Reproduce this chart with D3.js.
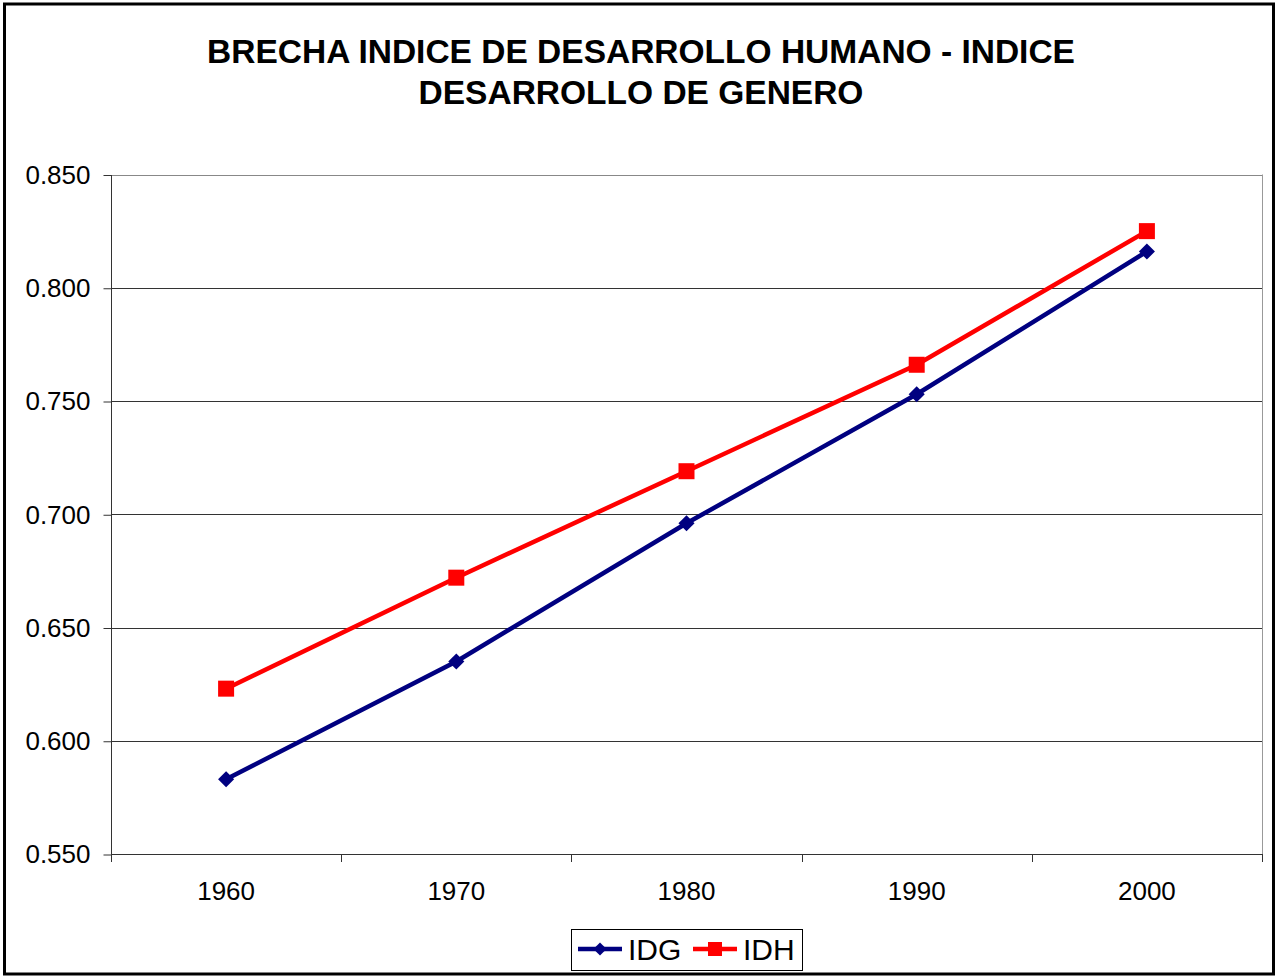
<!DOCTYPE html>
<html>
<head>
<meta charset="utf-8">
<script src="https://cdn.jsdelivr.net/npm/d3@7"></script>
<style>
  html, body { margin: 0; padding: 0; background: #fff; }
  svg { display: block; font-family: "Liberation Sans", Arial, sans-serif; }
</style>
</head>
<body>
<div id="chart"></div>
<script>
const años = ["1960", "1970", "1980", "1990", "2000"];
const idg = [0.583, 0.635, 0.696, 0.753, 0.816];
const idh = [0.623, 0.672, 0.719, 0.766, 0.825];
const ticksY = [0.55, 0.6, 0.65, 0.7, 0.75, 0.8, 0.85];
const titulo = ["BRECHA INDICE DE DESARROLLO HUMANO - INDICE", "DESARROLLO DE GENERO"];

const width = 1277, height = 977;
const margin = { top: 174.5, right: 15, bottom: 123, left: 111 };

const svg = d3.select("#chart").append("svg").attr("width", width).attr("height", height);

// marco exterior
svg.append("rect").attr("x", 4.5).attr("y", 4).attr("width", 1269).attr("height", 970)
  .attr("fill", "#fff").attr("stroke", "#000").attr("stroke-width", 3);

// titulo
svg.append("g").selectAll("text").data(titulo).join("text")
  .attr("x", 641).attr("y", (d, i) => 63 + i * 40.5)
  .attr("text-anchor", "middle").attr("font-size", 33.5).attr("font-weight", "bold").attr("fill", "#000")
  .text((d) => d);

const xScale = d3.scaleBand().domain(años).range([margin.left, width - margin.right]);
const yScale = d3.scaleLinear().domain([0.55, 0.85]).range([height - margin.bottom, margin.top]);

// cuadricula
svg.append("g").selectAll("line").data(ticksY.slice(1)).join("line")
  .attr("x1", margin.left).attr("x2", width - margin.right)
  .attr("y1", (d) => Math.round(yScale(d)) + 0.5).attr("y2", (d) => Math.round(yScale(d)) + 0.5)
  .attr("stroke", (d) => d === 0.85 ? "#888" : "#333").attr("stroke-width", 1);

// borde derecho
svg.append("line").attr("x1", width - margin.right + 0.5).attr("x2", width - margin.right + 0.5)
  .attr("y1", margin.top).attr("y2", height - margin.bottom).attr("stroke", "#999").attr("stroke-width", 1);

// eje Y
const ejeY = svg.append("g").attr("transform", `translate(${margin.left + 0.5},0.5)`)
  .call(d3.axisLeft(yScale).tickValues(ticksY).tickFormat(d3.format(".3f")).tickSize(8).tickPadding(13));
ejeY.select(".domain").attr("stroke", "#333").attr("d", `M0,${margin.top}V${height - margin.bottom}`);
ejeY.selectAll("line").attr("stroke", "#333");
ejeY.selectAll("text").attr("font-size", 26).attr("fill", "#000").attr("font-family", "Liberation Sans, Arial, sans-serif");

// eje X
const ejeX = svg.append("g").attr("transform", `translate(0,${Math.round(height - margin.bottom) + 0.5})`)
  .call(d3.axisBottom(xScale).tickSize(0).tickPadding(27));
ejeX.select(".domain").attr("stroke", "#333").attr("d", `M${margin.left},0H${width - margin.right}`);
ejeX.selectAll("text").attr("font-size", 26).attr("fill", "#000").attr("font-family", "Liberation Sans, Arial, sans-serif");
const bordes = años.map((d) => xScale(d)).concat([xScale(años[años.length - 1]) + xScale.bandwidth()]);
svg.append("g").selectAll("line").data(bordes).join("line")
  .attr("x1", (d) => Math.round(d) + 0.5).attr("x2", (d) => Math.round(d) + 0.5)
  .attr("y1", height - margin.bottom).attr("y2", height - margin.bottom + 8)
  .attr("stroke", "#333");

const cx = (i) => xScale(años[i]) + xScale.bandwidth() / 2;
const linea = d3.line().x((d, i) => cx(i)).y((d) => yScale(d));

svg.append("path").datum(idh).attr("fill", "none").attr("stroke", "#ff0000").attr("stroke-width", 4.5).attr("d", linea);
svg.append("path").datum(idg).attr("fill", "none").attr("stroke", "#000080").attr("stroke-width", 4.5).attr("d", linea);

svg.append("g").selectAll("rect").data(idh).join("rect")
  .attr("x", (d, i) => cx(i) - 8).attr("y", (d) => yScale(d) - 8)
  .attr("width", 16).attr("height", 16).attr("fill", "#ff0000");

const diamante = d3.symbol().type(d3.symbolDiamond2).size(165);
svg.append("g").selectAll("path").data(idg).join("path")
  .attr("transform", (d, i) => `translate(${cx(i)},${yScale(d)})`)
  .attr("d", diamante).attr("fill", "#000080");

// leyenda
const series = [
  { nombre: "IDG", color: "#000080", x: 578 },
  { nombre: "IDH", color: "#ff0000", x: 693 }
];
const leyenda = svg.append("g");
leyenda.append("rect").attr("x", 571.5).attr("y", 929.5).attr("width", 231).attr("height", 41)
  .attr("fill", "#fff").attr("stroke", "#000").attr("stroke-width", 1);
const item = leyenda.selectAll("g").data(series).join("g").attr("transform", (d) => `translate(${d.x},949)`);
item.append("line").attr("x1", 0).attr("x2", 44).attr("stroke", (d) => d.color).attr("stroke-width", 4.5);
item.filter((d) => d.nombre === "IDG").append("path").attr("transform", "translate(22,0)")
  .attr("d", d3.symbol().type(d3.symbolDiamond2).size(110)).attr("fill", (d) => d.color);
item.filter((d) => d.nombre === "IDH").append("rect").attr("x", 15).attr("y", -7).attr("width", 14).attr("height", 14)
  .attr("fill", (d) => d.color);
item.append("text").attr("x", 50).attr("y", 11).attr("font-size", 30).attr("fill", "#000").text((d) => d.nombre);
</script>
</body>
</html>
